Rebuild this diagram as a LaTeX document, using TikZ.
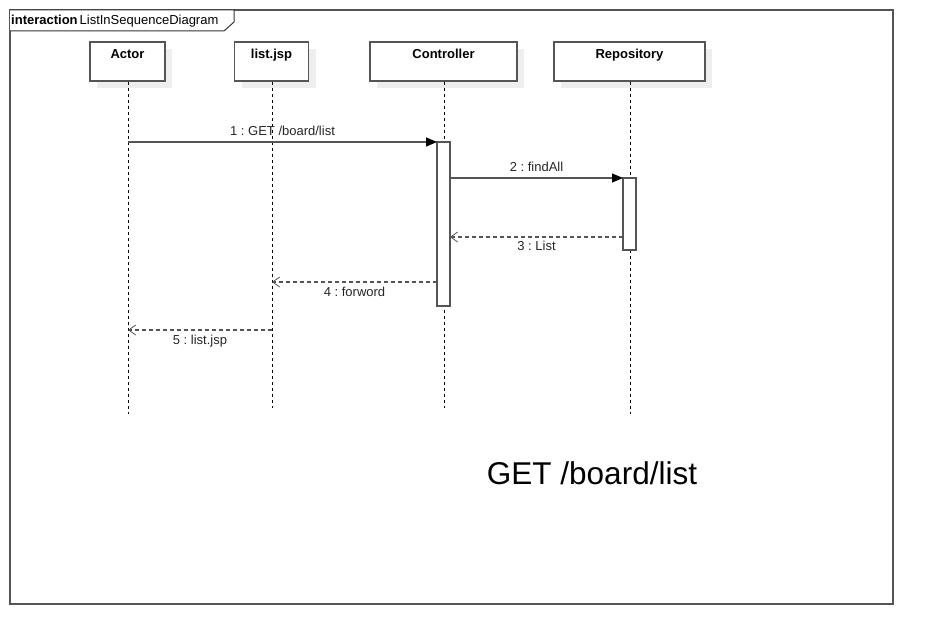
\documentclass[tikz,border=0pt]{standalone}
\usepackage{fontspec}
\setmainfont{Liberation Sans}
\usetikzlibrary{arrows.meta,shadows}
\definecolor{edge}{HTML}{555555}
\definecolor{shade}{HTML}{EEEEEE}
\frenchspacing
\begin{document}
\begin{tikzpicture}[x=1pt,y=-1pt,
  head/.style={draw=edge,line width=1.1pt,fill=white,minimum height=39pt,inner sep=0pt,
    general shadow={fill=shade,shadow xshift=7pt,shadow yshift=-7pt}},
  headlbl/.style={font=\fontsize{13}{15}\selectfont\bfseries,anchor=base,inner sep=0pt},
  act/.style={draw=edge,line width=1.1pt,fill=white,minimum width=13pt,inner sep=0pt,outer sep=0pt},
  life/.style={draw=black,line width=0.8pt,dash pattern=on 3pt off 3pt},
  msg/.style={draw=edge,line width=1.1pt,-{Triangle[length=11pt,width=9pt,fill=black,color=black]}},
  ret/.style={draw=edge,line width=1.1pt,dash pattern=on 4pt off 3pt,-{Straight Barb[length=7pt,width=10pt,line width=0.8pt]}},
  lbl/.style={font=\fontsize{13}{15}\selectfont,anchor=base,inner sep=0pt,text=black!85}
]
\useasboundingbox (0,0) rectangle (933,644);
% frame
\draw[draw=edge,line width=1.1pt] (10,10) rectangle (893,604);
\draw[draw=black!80,line width=1pt,fill=white] (10,10) -- (234,10) -- (234,22) -- (224,31) -- (10,31);
\node[font=\fontsize{13}{15}\selectfont,anchor=base west,inner sep=0pt] (title) at (11,25)
  {\textbf{interaction}\hspace{2pt}ListInSequenceDiagram};
% lifeline heads
\node[head,minimum width=75pt] (actor) at (127.5,61.5) {};
\node[head,minimum width=74pt] (jsp) at (271.5,61.5) {};
\node[head,minimum width=147pt] (ctrl) at (443.5,61.5) {};
\node[head,minimum width=151pt] (repo) at (629.5,61.5) {};
\node[headlbl] (actorlbl) at (127.5,59) {Actor};
\node[headlbl] (jsplbl) at (271.5,59) {list.jsp};
\node[headlbl] (ctrllbl) at (443.5,59) {Controller};
\node[headlbl] (repolbl) at (629.5,59) {Repository};
% lifeline ends
\coordinate (actorend) at (128,414);
\coordinate (jspend) at (272,408);
\coordinate (ctrlend) at (444,408);
\coordinate (repoend) at (630,414);
\draw[life] (actor.south -| actorend) -- (actorend);
\draw[life] (jsp.south -| jspend) -- (jspend);
\draw[life] (ctrl.south -| ctrlend) -- (ctrlend);
\draw[life] (repo.south -| repoend) -- (repoend);
% activations
\node[act,minimum height=164pt] (cact) at (443.5,224) {};
\node[act,minimum height=72pt] (ract) at (629.5,214) {};
% message points
\coordinate (m1s) at (128,142);
\coordinate (m2s) at (450,178);
\coordinate (m3s) at (623,237);
\coordinate (m3e) at (450,237);
\coordinate (m4s) at (437,282);
\coordinate (m4e) at (272,282);
\coordinate (m5s) at (272,330);
\coordinate (m5e) at (128,330);
% messages
\draw[msg] (m1s) -- (m1s -| cact.west) node[lbl,midway,yshift=6pt] (l1) {1 : GET /board/list};
\draw[msg] (m2s) -- (m2s -| ract.west) node[lbl,midway,yshift=6pt] (l2) {2 : findAll};
\draw[ret] (m3s) -- (m3e) node[lbl,midway,yshift=-14pt] (l3) {3 : List};
\draw[ret] (m4s) -- (m4e) node[lbl,midway,yshift=-14pt] (l4) {4 : forword};
\draw[ret] (m5s) -- (m5e) node[lbl,midway,yshift=-14pt] (l5) {5 : list.jsp};
% note text
\node[font=\fontsize{31.5}{36}\selectfont,anchor=base,inner sep=0pt] (big) at (592,484.5) {GET /board/list};
\end{tikzpicture}
\end{document}
